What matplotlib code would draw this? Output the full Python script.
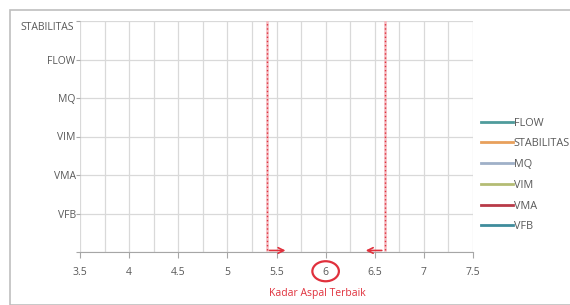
import matplotlib.pyplot as plt
from matplotlib.patches import Rectangle, Ellipse

# y-axis categories (bottom to top)
categories = ["", "VFB", "VMA", "VIM", "MQ", "FLOW", "STABILITAS"]
# legend series (no plotted points in the source chart)
series_names = ["FLOW", "STABILITAS", "MQ", "VIM", "VMA", "VFB"]
series_colors = ["#4f9c9c", "#e8a05c", "#9fb0c8", "#b4bc74", "#b83a48", "#3f8c9c"]
# asphalt content axis
x_ticks = [3.5, 4, 4.5, 5, 5.5, 6, 6.5, 7, 7.5]
# range of acceptable asphalt content and the best value
range_lo, range_hi = 5.4, 6.6
best_value = 6
best_label = "Kadar Aspal Terbaik"

plt.rcParams['font.family'] = ['Open Sans', 'DejaVu Sans']
grey = "#595959"
red = "#e0303c"

fig = plt.figure(figsize=(5.7, 3.05), dpi=100)
fig.patches.append(Rectangle((10 / 570, 0), 1.0, 1 - 10 / 305, transform=fig.transFigure,
                             fill=False, edgecolor="#bfbfbf", linewidth=1.2))
ax = fig.add_axes([80 / 570, 1 - 252 / 305, 393 / 570, 231 / 305])

for name, col in zip(series_names, series_colors):
    ax.plot([], [], color=col, linewidth=2, label=name)

ax.set_xlim(x_ticks[0], x_ticks[-1])
ax.set_ylim(0, len(categories) - 1)
ax.set_xticks(x_ticks)
ax.set_xticklabels([f"{t:g}" for t in x_ticks])
ax.set_xticks([t + 0.25 for t in x_ticks[:-1]], minor=True)
ax.set_yticks(range(len(categories)))
# top category is drawn separately, as in the source it sits left of the axis
ax.set_yticklabels(categories[:-1] + [""])
fig.text(20 / 570, 1 - 28 / 305, categories[-1], color=grey, fontsize=7.5,
         ha="left", va="center")

ax.grid(True, which="both", color="#d9d9d9", linewidth=0.9)
ax.set_axisbelow(True)
ax.tick_params(axis="both", which="major", colors="#a6a6a6", labelcolor=grey,
               labelsize=7.5, length=4, width=0.8)
ax.tick_params(axis="x", which="minor", length=0)
ax.tick_params(axis="x", pad=7)
ax.tick_params(axis="y", length=3, pad=0)
for side in ["top", "right", "left"]:
    ax.spines[side].set_visible(False)
ax.spines["bottom"].set_color("#a6a6a6")

# optimum range markers
yb = 0.04
for xv, dx in [(range_lo, 0.22), (range_hi, -0.22)]:
    ax.plot([xv, xv], [yb, len(categories) - 1], color="#f4b8be", linewidth=1.8, zorder=3)
    ax.plot([xv, xv], [yb, len(categories) - 1], color=red, linewidth=1.0,
            linestyle=(0, (1, 2)), zorder=4)
    ax.annotate("", xy=(xv + dx, yb), xytext=(xv, yb),
                arrowprops=dict(arrowstyle="->", color=red, lw=1.2), zorder=5)

circ = Ellipse((best_value, -0.5), 0.27, 0.52, fill=False, edgecolor=red,
               linewidth=1.6, clip_on=False)
ax.add_patch(circ)
ax.text(best_value - 0.08, -1.08, best_label, color=red, fontsize=7.5,
        ha="center", va="center", clip_on=False)

leg = ax.legend(loc="upper left", bbox_to_anchor=(1.0, 0.615), frameon=False,
                fontsize=7.8, handlelength=3.0, handletextpad=0.05,
                labelspacing=0.9, borderaxespad=0.3)
for t in leg.get_texts():
    t.set_color(grey)

fig.savefig("out.png", dpi=100)
